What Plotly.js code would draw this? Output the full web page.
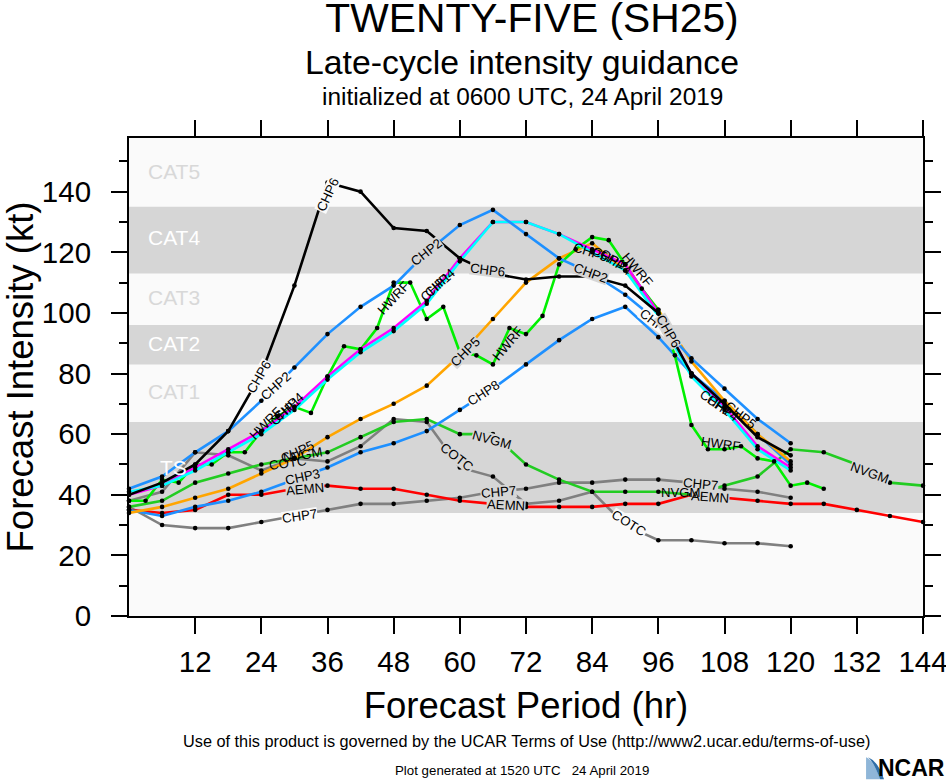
<!DOCTYPE html>
<html><head><meta charset="utf-8">
<script src="https://cdn.plot.ly/plotly-3.0.1.min.js"></script>
<style>html,body{margin:0;padding:0;background:#fff}</style>
</head><body><div id="chart" style="width:946px;height:780px"></div>
<script>
// 6-hourly forecast hours
const hours6 = [0,6,12,18,24,30,36,42,48,54,60,66,72,78,84,90,96,102,108,114,120];
const hoursHwrf = [0,3,6,9,12,15,18,21,24,27,30,33,36,39,42,45,48,51,54,57,60,63,66,69,72,75,78,81,84,87,90,93,96,99,102,105,108,111,114,117,120,123,126];
const hoursNvgm = [0,6,12,18,24,30,36,42,48,54,60,66,72,78,84,90,96,102,108,114,120,126,132,138,144];
const hoursAemn = hoursNvgm;
const hoursCotc = hours6;

const cotc = [38,41,54,53,48,52,51,56,65,64,49,46,37,38,41,30,25,25,24,24,23];
const chp7 = [36,30,29,29,31,33,35,37,37,38,39,41,42,44,44,45,45,44,42,41,39];
const aemn = [35,34,35,40,40,42,43,42,42,40,38,37,36,36,36,37,37,40,39,38,37,37,35,33,31];
const nvgm = [36,38,44,47,50,52,54,59,64,65,60,60,50,45,41,41,41,40,43,46,55,54,50,44,43];
const chp8 = [35,33,36,38,41,45,49,54,57,61,68,75,83,91,98,102,92,80,71,60,50];
const chp5 = [34,36,39,42,47,52,59,65,70,76,86,98,110,118,123,114,101,84,71,60,51];
const hwrf = [38,38,45,44,50,50,54,54,61,66,69,67,79,89,88,95,110,110,98,102,87,86,83,95,93,99,116,121,125,124,116,108,101,86,63,55,55,56,52,51,43,44,42];
const chp4 = [40,43,49,55,61,69,79,88,95,104,118,130,130,126,121,116,100,80,69,56,49];
const chp1 = [41,43,48,54,60,68,78,87,94,103,117,130,130,126,120,114,99,79,68,55,48];
const chp2 = [42,46,54,61,71,82,93,102,109,120,129,134,126,118,113,106,97,85,75,65,57];
const chp6 = [40,44,50,61,80,109,143,140,128,127,118,113,111,112,112,109,100,80,70,59,53];

const seriesNames = ['COTC','CHP7','AEMN','NVGM','CHP8','CHP5','HWRF','CHP4','CHP1','CHP2','CHP6'];
const seriesHours = [hoursCotc,hours6,hoursAemn,hoursNvgm,hours6,hours6,hoursHwrf,hours6,hours6,hours6,hours6];
const seriesValues = [cotc,chp7,aemn,nvgm,chp8,chp5,hwrf,chp4,chp1,chp2,chp6];
const seriesColors = ['#808080','#808080','#ff0000','#22cc22','#1e90ff','#ffa500','#00f000','#ff00ff','#00ffff','#1e90ff','#000000'];

const xTicks = [12,24,36,48,60,72,84,96,108,120,132,144];
const yTicks = [0,20,40,60,80,100,120,140];
const bandLow = [34,83,113], bandHigh = [64,96,135];
const catNames = ['TS','CAT1','CAT2','CAT3','CAT4','CAT5'];
const catLevels = [49,74,90,105,125,146.8];
const catColors = ['#ffffff','#d8d8d8','#ffffff','#d8d8d8','#ffffff','#d8d8d8'];

// inline line labels: text, hour, kt, angle, gap behind the text
const labelText = ['CHP7','CHP7','CHP7','COTC','COTC','COTC','AEMN','AEMN','AEMN','NVGM','NVGM','NVGM','NVGM','CHP3','CHP8','CHP8','CHP5','CHP5','CHP5','CHP5','CHP2','CHP2','CHP2','CHP6','CHP6','CHP6','CHP6','HWRF','CHP1','CHP4','HWRF','CHP1','CHP4','HWRF','HWRF','CHP1','CHP4','CHP1','CHP4','HWRF'];
const labelHour = [31,67,103.6,28.8,59.4,90.6,32,68.4,105.3,31.5,65.9,100.2,134.4,31.5,64.3,95.4,61,30.5,110.9,83.7,26.6,54,83.7,23.5,36,65,97.8,24.9,28.4,28.9,48,55.6,56.3,68.8,92.2,87,88.2,106.4,107.6,107.3];
const labelKt = [33,40.8,43.5,50.5,52.4,30.6,42,36.5,39.2,53,58,40.8,47.3,45.9,73.5,97,87,54,66.3,120,76,120,113,79,139,114,94,63.6,67.5,69,104.8,108.5,110,90,114,118,116.7,70.2,68.5,56.9];
const labelAngle = [-8,-5,5,-8,38,32,-5,3,4,-10,15,0,20,-12,-33,37,-45,-25,38,18,-42,-38,20,-60,-65,7,60,-45,-42,-42,-47,-42,-42,-50,50,25,35,35,35,8];
const labelGap = [1,1,1,0,1,1,1,1,1,0,1,0,1,1,1,1,1,0,0,0,1,1,1,1,1,1,1,0,0,0,0,0,0,0,0,0,0,0,0,0];

const PAPER = {l:128.5,r:923,t:137.5,b:615.7};
const px = v => (v-PAPER.l)/(PAPER.r-PAPER.l);
const py = v => (PAPER.b-v)/(PAPER.b-PAPER.t);
const FONT = 'Liberation Sans, Arial, sans-serif';

const traces = [];
seriesNames.forEach((n,i)=>traces.push({type:'scatter',mode:'lines',name:n,x:seriesHours[i],y:seriesValues[i],
  line:{color:seriesColors[i],width:2.6},hoverinfo:'name+x+y',showlegend:false}));
seriesNames.forEach((n,i)=>traces.push({type:'scatter',mode:'markers',name:n,x:seriesHours[i],y:seriesValues[i],
  marker:{color:'#000',size:4.6},cliponaxis:false,hoverinfo:'skip',showlegend:false}));

const isBand = y => bandLow.some((l,i)=>y>=l && y<=bandHigh[i]);
const ann = [];
labelText.forEach((t,i)=>ann.push({xref:'x',yref:'y',x:labelHour[i],y:labelKt[i],text:t,textangle:labelAngle[i],showarrow:false,
  font:{family:FONT,size:13.2,color:'#000'},borderpad:0,height:12,
  bgcolor:labelGap[i]?(isBand(labelKt[i])?'#d6d6d6':'#fafafa'):'rgba(0,0,0,0)'}));
catNames.forEach((t,i)=>ann.push({xref:'x',yref:'y',x:8.1,y:catLevels[i],text:t,showarrow:false,xanchor:'center',
  font:{family:FONT,size:21,color:catColors[i]}}));
const note=(t,x,y,s,extra)=>ann.push(Object.assign({xref:'paper',yref:'paper',x:px(x),y:py(y),text:t,showarrow:false,xanchor:'center',yanchor:'middle',
  font:{family:FONT,size:s,color:'#000'}},extra||{}));
note('Late-cycle intensity guidance',522,61,33.8);
note('initialized at 0600 UTC, 24 April 2019',522,96,24.4);
note('Use of this product is governed by the UCAR Terms of Use (http://www2.ucar.edu/terms-of-use)',526,741,16.3);
note('Plot generated at 1520 UTC   24 April 2019',522,770.5,13.3);
note('<b>NCAR</b>',911,767.5,23);

const shapes = [];
bandLow.forEach((l,i)=>shapes.push({type:'rect',xref:'paper',yref:'y',x0:0,x1:1,y0:l,y1:bandHigh[i],fillcolor:'#d6d6d6',line:{width:0},layer:'below'}));
const P=(x,y)=>px(x).toFixed(4)+','+py(y).toFixed(4);
shapes.push({type:'path',xref:'paper',yref:'paper',path:`M${P(866,757)} Q${P(874,760)} ${P(880,779)} L${P(866,779)} Z`,fillcolor:'#8fb6d8',line:{width:0}});
shapes.push({type:'path',xref:'paper',yref:'paper',path:`M${P(868,757)} Q${P(878,761)} ${P(884,779)} L${P(880,779)} Q${P(874,762)} ${P(868,757)} Z`,fillcolor:'#2f6ea8',line:{width:0}});

const axisCommon = {showgrid:false,zeroline:false,showline:true,linecolor:'#000',linewidth:2,ticks:'outside',tickwidth:2,tickcolor:'#000',mirror:'allticks',
  tickfont:{family:FONT,size:29.5,color:'#000'},fixedrange:true,ticklabeloverflow:'allow'};
const layout = {
  width:946,height:780,paper_bgcolor:'#fff',plot_bgcolor:'#fafafa',showlegend:false,
  margin:{l:PAPER.l,r:946-PAPER.r,t:PAPER.t,b:780-PAPER.b,pad:0,autoexpand:false},
  title:{text:'TWENTY-FIVE (SH25)',font:{family:FONT,size:40.8,color:'#000'},x:532/946,xanchor:'center',xref:'container',y:1-18/780,yanchor:'middle'},
  xaxis:Object.assign({},axisCommon,{range:[0,144],tickmode:'array',tickvals:xTicks,ticklen:16,ticklabelstandoff:3,
    title:{text:'Forecast Period (hr)',font:{family:FONT,size:36.5,color:'#000'},standoff:15}}),
  yaxis:Object.assign({},axisCommon,{range:[0,157.7],tickmode:'array',tickvals:yTicks,ticklen:16,ticklabelstandoff:14,
    minor:{tickmode:'array',tickvals:[10,30,50,70,90,110,130,150],ticks:'outside',ticklen:8,tickwidth:2,tickcolor:'#000'},
    title:{text:'Forecast Intensity (kt)',font:{family:FONT,size:36.5,color:'#000'},standoff:1}}),
  shapes:shapes,annotations:ann
};
Plotly.newPlot('chart',traces,layout,{displayModeBar:false,staticPlot:true});
</script></body></html>
